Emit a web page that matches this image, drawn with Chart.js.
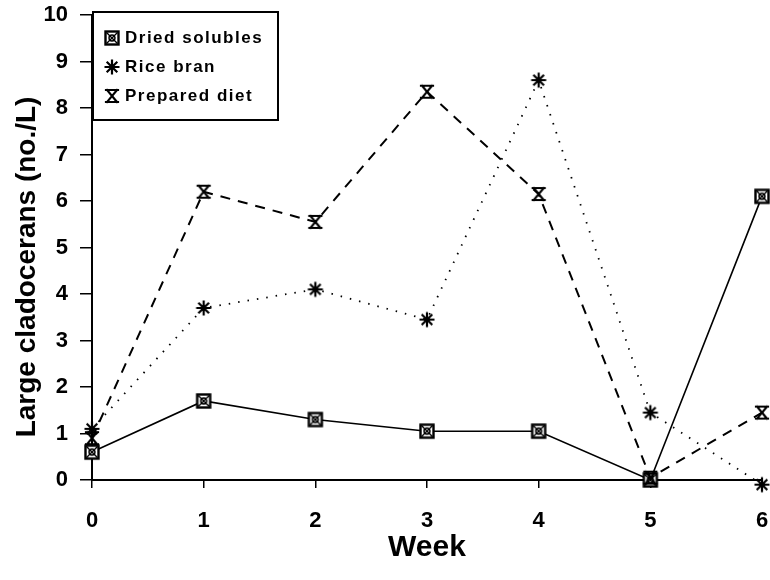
<!DOCTYPE html>
<html>
<head>
<meta charset="utf-8">
<script src="https://cdn.jsdelivr.net/npm/chart.js@4"></script>
<style>
    html, body { margin: 0; padding: 0; background: white; }
    #wrap { width: 770px; height: 580px; }
</style>
</head>
<body>
<div id="wrap"><canvas id="chart"></canvas></div>
<script>
const weeks = ['0', '1', '2', '3', '4', '5', '6'];
const driedSolubles = [0.6, 1.7, 1.3, 1.05, 1.05, 0, 6.1];
const riceBran = [1.1, 3.7, 4.1, 3.45, 8.6, 1.45, -0.1];
const preparedDiet = [0.9, 6.2, 5.55, 8.35, 6.15, 0.05, 1.45];
const seriesNames = ['Dried solubles', 'Rice bran', 'Prepared diet'];
const yTicks = [0, 1, 2, 3, 4, 5, 6, 7, 8, 9, 10];

const FONT = '"Liberation Sans", Arial, sans-serif';

function makeCanvas(size, draw) {
    const c = document.createElement('canvas');
    c.width = size;
    c.height = size;
    const g = c.getContext('2d');
    g.strokeStyle = 'black';
    g.lineCap = 'square';
    draw(g, size);
    return c;
}

// crossed box marker
const boxMarker = makeCanvas(18, (g, s) => {
    g.fillStyle = 'white';
    g.fillRect(2, 2, s - 4, s - 4);
    g.lineWidth = 2.4;
    g.strokeRect(2.5, 2.5, s - 5, s - 5);
    g.lineWidth = 1.4;
    g.beginPath();
    g.moveTo(4, 4); g.lineTo(s - 4, s - 4);
    g.moveTo(s - 4, 4); g.lineTo(4, s - 4);
    g.stroke();
    g.beginPath();
    g.arc(s / 2, s / 2, 3, 0, Math.PI * 2);
    g.stroke();
});

// hourglass marker
const hourglassMarker = makeCanvas(18, (g, s) => {
    g.lineWidth = 2.2;
    g.beginPath();
    g.moveTo(3, 3); g.lineTo(s - 3, 3);
    g.moveTo(3, s - 3); g.lineTo(s - 3, s - 3);
    g.moveTo(4, 3); g.lineTo(s - 4, s - 3);
    g.moveTo(s - 4, 3); g.lineTo(4, s - 3);
    g.stroke();
});

// asterisk marker
const starMarker = makeCanvas(18, (g, s) => {
    const c = s / 2;
    g.lineWidth = 2.2;
    g.lineCap = 'butt';
    g.beginPath();
    for (let i = 0; i < 4; i++) {
        const a = i * Math.PI / 4;
        g.moveTo(c - Math.cos(a) * 7.5, c - Math.sin(a) * 7.5);
        g.lineTo(c + Math.cos(a) * 7.5, c + Math.sin(a) * 7.5);
    }
    g.stroke();
});

const markers = [boxMarker, starMarker, hourglassMarker];
const dashes = [[], [1.5, 8], [10, 8]];
const widths = [1.6, 1.8, 2];

const insideLegend = {
    id: 'insideLegend',
    afterDraw(chart) {
        const ctx = chart.ctx;
        const x0 = 93;
        const y0 = 12;
        ctx.save();
        ctx.fillStyle = 'white';
        ctx.fillRect(x0, y0, 185, 108);
        ctx.strokeStyle = 'black';
        ctx.lineWidth = 2;
        ctx.strokeRect(x0, y0, 185, 108);
        ctx.font = 'bold 17px ' + FONT;
        ctx.fillStyle = 'black';
        ctx.textBaseline = 'middle';
        ctx.letterSpacing = '1.5px';
        seriesNames.forEach((name, i) => {
            const cy = y0 + 26 + i * 29;
            ctx.drawImage(markers[i], x0 + 10, cy - 9);
            ctx.fillText(name, x0 + 32, cy);
        });
        ctx.restore();
    }
};

function makeDataset(label, data, i) {
    return {
        label: label,
        data: data,
        borderColor: 'black',
        borderWidth: widths[i],
        borderDash: dashes[i],
        pointStyle: markers[i],
        pointRadius: 9,
        tension: 0,
        clip: false,
        order: 3 - i,
    };
}

// let layout.padding alone decide where the plot area ends
function noEdgePadding(scale) {
    scale.paddingLeft = 0;
    scale.paddingRight = 0;
    scale.paddingTop = 0;
    scale.paddingBottom = 0;
}

const ctx = document.getElementById('chart');

const chartSpec = {
    type: 'line',
    data: {
        labels: weeks,
        datasets: [
            makeDataset(seriesNames[0], driedSolubles, 0),
            makeDataset(seriesNames[1], riceBran, 1),
            makeDataset(seriesNames[2], preparedDiet, 2),
        ]
    },
    options: {
        responsive: true,
        maintainAspectRatio: false,
        animation: false,
        layout: {
            autoPadding: false,
            padding: { top: 15, right: 8, left: 0, bottom: 0 }
        },
        plugins: {
            legend: { display: false },
            tooltip: { enabled: false },
        },
        scales: {
            x: {
                offset: false,
                grid: {
                    display: true,
                    drawOnChartArea: false,
                    drawTicks: true,
                    tickLength: 8,
                    color: 'black',
                    lineWidth: 1.5,
                },
                border: { display: true, color: 'black', width: 2 },
                ticks: {
                    color: 'black',
                    padding: 20,
                    maxRotation: 0,
                    font: { family: FONT, size: 22, weight: 'bold' }
                },
                title: {
                    display: true,
                    text: 'Week',
                    color: 'black',
                    padding: { top: 4, bottom: 14 },
                    font: { family: FONT, size: 30, weight: 'bold' }
                },
                afterFit: (scale) => {
                    scale.height = 100;
                    noEdgePadding(scale);
                },
            },
            y: {
                min: 0,
                max: 10,
                afterBuildTicks: (scale) => {
                    scale.ticks = yTicks.map((v) => ({ value: v }));
                },
                grid: {
                    display: true,
                    drawOnChartArea: false,
                    drawTicks: true,
                    tickLength: 12,
                    color: 'black',
                    lineWidth: 1.5,
                },
                border: { display: true, color: 'black', width: 2 },
                ticks: {
                    color: 'black',
                    padding: 12,
                    font: { family: FONT, size: 22, weight: 'bold' }
                },
                title: {
                    display: true,
                    text: 'Large cladocerans (no./L)     ',
                    color: 'black',
                    padding: { top: 10, bottom: 6 },
                    font: { family: FONT, size: 28, weight: 'bold' }
                },
                afterFit: (scale) => {
                    scale.width = 92;
                    noEdgePadding(scale);
                },
            }
        }
    },
    plugins: [insideLegend],
};

const chart = new Chart(ctx, chartSpec);
</script>
</body>
</html>
